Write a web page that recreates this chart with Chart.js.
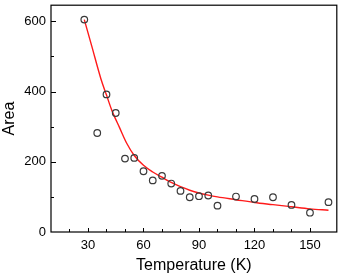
<!DOCTYPE html>
<html>
<head>
<meta charset="utf-8">
<script src="https://cdn.jsdelivr.net/npm/chart.js@4.4.1/dist/chart.umd.min.js"></script>
<style>
  body { margin: 0; background: #fff; }
  #wrap { width: 342px; height: 275px; }
</style>
</head>
<body>
<div id="wrap"><canvas id="areaChart"></canvas></div>
<script>
// measured points (open circles)
const tempK = [28, 35, 40, 45, 50, 55, 60, 65, 70, 75, 80, 85, 90, 95, 100, 110, 120, 130, 140, 150, 160];
const area = [605, 282, 392, 339, 209, 211, 173, 147, 160, 138, 117, 99, 102, 104, 75, 101, 94, 99, 77, 55, 85];

// red fit curve
const fitT = [28, 32, 37, 40, 43, 47, 51, 55, 60, 65, 70, 75, 80, 85, 90, 95, 100, 110, 120, 130, 140, 150, 160];
const fitArea = [605, 530, 436, 390, 345, 298, 252, 218, 190, 171, 156, 141, 129, 119, 111, 105, 100, 92, 84, 78, 72, 66, 62];

const xLabels = [30, 60, 90, 120, 150];
const yLabels = [0, 200, 400, 600];

const fontFamily = "'Liberation Sans', Arial, sans-serif";

// frame around the plot + inward ticks
const framePlugin = {
  id: "frame",
  afterDraw(chart) {
    const { ctx, chartArea: a, scales } = chart;
    ctx.save();
    ctx.strokeStyle = "#000";
    ctx.lineWidth = 1;
    // ticks on bottom axis
    scales.x.ticks.forEach((t) => {
      if (t.value % 10 !== 0 || t.value <= scales.x.min) return;
      const px = Math.round(scales.x.getPixelForValue(t.value)) + 0.5;
      const len = xLabels.includes(t.value) ? 4 : 3;
      ctx.beginPath();
      ctx.moveTo(px, a.bottom);
      ctx.lineTo(px, a.bottom - len);
      ctx.stroke();
    });
    // ticks on left axis
    scales.y.ticks.forEach((t) => {
      if (t.value % 100 !== 0 || t.value <= scales.y.min) return;
      const py = Math.round(scales.y.getPixelForValue(t.value)) + 0.5;
      const len = yLabels.includes(t.value) ? 5 : 3;
      ctx.beginPath();
      ctx.moveTo(a.left, py);
      ctx.lineTo(a.left + len, py);
      ctx.stroke();
    });
    ctx.lineWidth = 1.2;
    ctx.strokeRect(a.left, a.top, a.right - a.left, a.bottom - a.top);
    ctx.restore();
  },
};

const points = tempK.map((t, i) => ({ x: t, y: area[i] }));
const fit = fitT.map((t, i) => ({ x: t, y: fitArea[i] }));

new Chart(document.getElementById("areaChart"), {
  type: "scatter",
  data: {
    datasets: [
      {
        data: fit,
        showLine: true,
        borderColor: "#ff1a1a",
        borderWidth: 1.4,
        pointRadius: 0,
        cubicInterpolationMode: "monotone",
        order: 2,
      },
      {
        data: points,
        showLine: false,
        pointRadius: 3.3,
        pointBorderWidth: 1.2,
        pointBorderColor: "#3a3a3a",
        pointBackgroundColor: "rgba(0,0,0,0)",
        order: 1,
      },
    ],
  },
  options: {
    responsive: true,
    maintainAspectRatio: false,
    animation: false,
    layout: { padding: { left: 0, right: 4, top: 0, bottom: 0 } },
    plugins: { legend: { display: false }, tooltip: { enabled: false } },
    scales: {
      x: {
        type: "linear",
        min: 10,
        max: 164.5,
        grid: { display: false, drawTicks: false },
        border: { display: false },
        ticks: {
          stepSize: 10,
          autoSkip: false,
          maxRotation: 0,
          padding: 6,
          color: "#000",
          font: { family: fontFamily, size: 13 },
          callback: (v) => (xLabels.includes(v) ? v : ""),
        },
        title: {
          display: true,
          text: "Temperature (K)",
          color: "#000",
          font: { family: fontFamily, size: 16 },
          padding: { top: 0, bottom: 0 },
        },
        afterFit: (scale) => {
          scale.height = 43;
          scale.paddingLeft = 0;
          scale.paddingRight = 0;
        },
      },
      y: {
        type: "linear",
        min: 0,
        max: 646,
        grid: { display: false, drawTicks: false },
        border: { display: false },
        ticks: {
          stepSize: 100,
          autoSkip: false,
          padding: 5,
          color: "#000",
          font: { family: fontFamily, size: 13 },
          callback: (v) => (yLabels.includes(v) ? v : ""),
        },
        title: {
          display: true,
          text: "Area",
          color: "#000",
          font: { family: fontFamily, size: 16 },
          padding: { top: 0, bottom: 0 },
        },
        afterFit: (scale) => {
          scale.width = 51;
          scale.paddingTop = 0;
          scale.paddingBottom = 0;
        },
      },
    },
  },
  plugins: [framePlugin],
});
</script>
</body>
</html>
